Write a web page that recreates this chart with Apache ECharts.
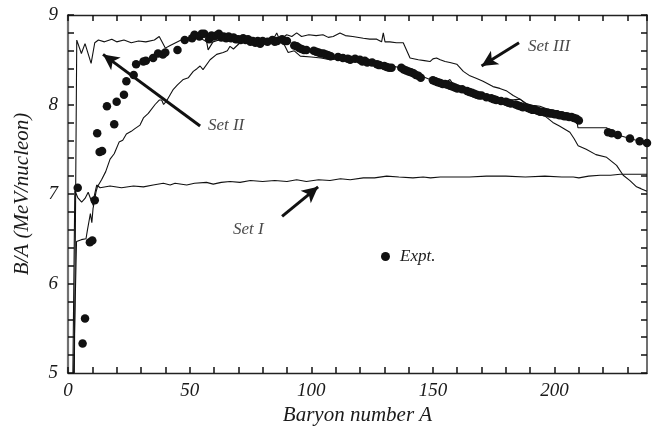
<!DOCTYPE html>
<html><head><meta charset="utf-8">
<script src="https://cdn.jsdelivr.net/npm/echarts@6/dist/echarts.min.js"></script>
<style>html,body{margin:0;padding:0;background:#fff}#c{width:668px;height:431px}</style>
</head><body><div id="c"></div>
<script>
// ---- data (A, B/A in MeV/nucleon) ----
const expt = [
[4,7.07],[6,5.33],[7,5.61],[9,6.46],[10,6.48],[11,6.93],[12,7.68],[13,7.47],[14,7.48],[16,7.98],[19,7.78],[20,8.03],
[23,8.11],[24,8.26],[27,8.33],[28,8.45],[31,8.48],[32,8.49],[35,8.52],[37,8.57],[39,8.56],[40,8.58],[45,8.61],[48,8.72],
[51,8.74],[52,8.78],[54,8.76],[55,8.79],[56,8.79],[58,8.73],[59,8.77],[60,8.76],[61,8.77],[62,8.79],[63,8.75],[64,8.76],
[65,8.74],[66,8.76],[67,8.74],[68,8.75],[69,8.73],[70,8.73],[71,8.72],[72,8.74],[73,8.72],[74,8.73],[75,8.70],[76,8.71],
[77,8.69],[78,8.71],[79,8.68],[80,8.71],[82,8.70],[84,8.72],[85,8.70],[86,8.71],[88,8.73],[89,8.71],[90,8.71],
[93,8.66],[94,8.65],[95,8.63],[96,8.62],[97,8.61],[98,8.61],[101,8.60],[102,8.59],[103,8.58],[104,8.57],[105,8.57],
[106,8.56],[107,8.55],[108,8.54],[111,8.53],[113,8.52],[115,8.51],[116,8.50],[118,8.51],[120,8.50],[121,8.48],[122,8.49],
[123,8.47],[125,8.47],[127,8.45],[128,8.44],[130,8.43],[131,8.42],[132,8.41],[133,8.41],[137,8.41],[138,8.39],[139,8.38],
[140,8.37],[141,8.36],[142,8.35],[143,8.33],[144,8.32],[145,8.30],[150,8.27],[151,8.26],[152,8.25],[153,8.24],[154,8.23],
[155,8.23],[156,8.22],[157,8.21],[158,8.20],[159,8.19],[160,8.18],[162,8.17],[164,8.15],[165,8.14],[166,8.13],[167,8.12],
[168,8.11],[169,8.10],[170,8.10],[172,8.08],[174,8.07],[175,8.06],[176,8.05],[178,8.04],[180,8.03],[181,8.02],[182,8.01],
[184,8.00],[185,7.99],[186,7.98],[187,7.97],[189,7.96],[190,7.95],[191,7.94],[192,7.94],[193,7.93],[194,7.92],[195,7.92],
[196,7.91],[197,7.91],[198,7.90],[199,7.90],[200,7.89],[201,7.89],[202,7.88],[203,7.88],[204,7.87],[205,7.87],[206,7.86],
[207,7.86],[208,7.85],[209,7.84],[210,7.82],[222,7.69],[223.5,7.68],[226,7.66],[231,7.62],[235,7.59],[238,7.57]
];
const setI = [
[2.0,5.0],[2.8,7.04],[4.0,6.96],[5.6,6.91],[7.0,6.95],[8.3,7.02],[9.5,6.93],[10.4,6.87],[10.8,6.98],[11.8,7.10],[13.2,7.07],
[17.3,7.09],[22,7.07],[26.9,7.09],[31,7.08],[35,7.10],[39.2,7.12],[42,7.10],[44,7.12],[48.8,7.10],[52,7.12],[56.9,7.13],
[59.7,7.11],[63,7.13],[66.6,7.14],[70.7,7.13],[75,7.15],[80,7.14],[85,7.15],[90,7.14],[94,7.16],[98,7.14],[103,7.16],
[107.7,7.15],[112,7.17],[116,7.16],[121.4,7.18],[126,7.18],[131,7.20],[136,7.19],[141.8,7.18],[146,7.19],[149,7.18],
[153,7.19],[158,7.19],[165,7.19],[172,7.20],[180,7.20],[188,7.19],[196,7.20],[203,7.19],[207.7,7.19],[210,7.18],
[214,7.20],[218.7,7.21],[223,7.21],[227,7.22],[232,7.22],[238,7.22]
];
const setII = [
[2.6,5.0],[3.6,8.72],[5.5,8.57],[7.0,8.68],[9.5,8.46],[11.0,8.69],[12.5,8.72],[15,8.70],[18,8.73],[20,8.70],[23,8.72],
[26,8.69],[29,8.71],[32,8.70],[35.5,8.72],[37.5,8.76],[40,8.63],[42,8.66],[46.5,8.72],[49,8.73],[52,8.75],[54.5,8.74],
[57,8.70],[57.6,8.61],[59.6,8.70],[62,8.72],[65,8.71],[68,8.72],[71,8.70],[74,8.72],[77,8.70],[80,8.71],[83,8.69],
[86,8.70],[88.5,8.69],[90.5,8.58],[93,8.60],[95.5,8.54],[100,8.53],[104,8.52],[107.7,8.50],[111,8.51],[114.5,8.50],
[118,8.49],[121.4,8.47],[125,8.46],[128,8.44],[132.3,8.43],[135,8.42],[137.8,8.41],[141,8.36],[144,8.32],[146,8.31],
[148.8,8.28],[151,8.25],[153,8.22],[155,8.24],[157,8.28],[158.5,8.22],[161,8.21],[164,8.17],[167,8.13],[170,8.11],
[174,8.08],[178,8.06],[182,8.05],[185.8,8.06],[188,8.01],[191,7.99],[194,7.98],[197,7.95],[201,7.93],[204,7.90],
[207.6,7.87],[209.2,7.82],[209.6,7.74],[221.5,7.74],[222.5,7.69],[226,7.66],[231,7.62],[235,7.59],[238,7.57]
];
const setIII = [
[2.3,5.0],[3.5,6.47],[5.5,6.49],[7.4,6.50],[8.0,6.60],[8.6,6.69],[9.2,6.78],[9.8,6.68],[10.3,6.84],[10.8,6.91],[11.5,7.02],
[12.1,7.08],[13.8,7.16],[15.5,7.25],[17.3,7.39],[19,7.45],[21,7.58],[22.5,7.60],[24,7.67],[26,7.70],[27.5,7.73],[29.6,7.77],
[31,7.85],[33,7.90],[35.8,8.00],[37.5,8.05],[38.5,8.05],[39.3,8.00],[40.5,8.04],[43.3,8.17],[45,8.22],[47.4,8.28],
[49.5,8.30],[51.5,8.37],[53,8.40],[54.3,8.43],[55.5,8.39],[58.4,8.50],[61.1,8.56],[63.8,8.58],[65.5,8.60],[66.6,8.65],
[68,8.62],[70.7,8.69],[73,8.70],[76,8.71],[79,8.70],[82,8.72],[84,8.71],[85.8,8.80],[87,8.72],[89.9,8.78],[92,8.76],
[94,8.80],[96,8.76],[99,8.78],[102,8.77],[104.8,8.78],[107,8.75],[109,8.76],[111.8,8.80],[114,8.77],[117,8.76],
[121.4,8.74],[124,8.73],[126.9,8.73],[128.9,8.70],[129.6,8.80],[130.3,8.70],[132.3,8.70],[135,8.69],[137.8,8.69],
[140.6,8.52],[144,8.50],[146.5,8.49],[148.8,8.48],[150,8.51],[151.5,8.52],[153,8.50],[155,8.48],[157,8.47],[159.8,8.45],
[162.5,8.37],[165.2,8.32],[168,8.29],[170.6,8.26],[174.7,8.20],[177.5,8.18],[180.4,8.15],[183,8.10],[185.8,8.06],
[189,8.00],[192.8,7.95],[195.2,7.89],[199.3,7.80],[202,7.76],[205.1,7.71],[206.3,7.69],[208,7.62],[209.7,7.54],
[213,7.50],[217,7.44],[221.4,7.41],[225.5,7.32],[228.2,7.21],[231,7.15],[233.7,7.08],[235.5,7.06],[238,7.03]
];
const xTickLabels = [0, 50, 100, 150, 200];
const yTickLabels = [5, 6, 7, 8, 9];
// annotations: [text, A, B/A] and arrows [fromA, fromBA, toA, toBA]
const notes = [['Set II', 57.3, 7.77], ['Set III', 188.9, 8.646], ['Set I', 67.6, 6.60]];
const arrows = [[54.3, 7.76, 14.4, 8.56], [185.4, 8.69, 170.0, 8.43], [88.0, 6.75, 102.8, 7.08]];

// ---- chart ----
const X_MIN = 0, X_MAX = 238, Y_MIN = 5, Y_MAX = 9;
const FONT = 'Liberation Serif';
const INK = '#111';
const txt = {fontFamily: FONT, fontStyle: 'italic', color: '#1a1a1a'};
const chart = echarts.init(document.getElementById('c'), null, {renderer: 'canvas'});
const near = (v, list) => list.some(t => Math.abs(v - t) < 1e-6);
const lineSeries = (name, data) => ({
  name, type: 'line', data, showSymbol: false, symbol: 'none', z: 2,
  lineStyle: {color: INK, width: 1.1}, emphasis: {disabled: true}
});
const tick = () => ({show: true, inside: true, length: 6, lineStyle: {color: '#111', width: 1.5}});
chart.setOption({
  animation: false,
  grid: {left: 68, right: 21, top: 15, bottom: 55.5},
  legend: {
    data: ['Expt.'], left: 376, top: 243, icon: 'circle', itemWidth: 9, itemHeight: 9,
    textStyle: Object.assign({fontSize: 17, padding: [0, 0, 0, 5]}, txt), selectedMode: false
  },
  xAxis: [{
    type: 'value', min: X_MIN, max: X_MAX, interval: 10, position: 'bottom',
    axisLine: {show: true, onZero: false, lineStyle: {color: '#222', width: 1.3}},
    axisTick: tick(),
    axisLabel: Object.assign({fontSize: 19, margin: 8, showMaxLabel: false,
      formatter: v => near(v, xTickLabels) ? String(Math.round(v)) : ''}, txt),
    splitLine: {show: false},
    name: 'Baryon number A', nameLocation: 'middle', nameGap: 32,
    nameTextStyle: Object.assign({fontSize: 21}, txt)
  }, {
    type: 'value', min: X_MIN, max: X_MAX, interval: 10, position: 'top',
    axisLine: {show: true, onZero: false, lineStyle: {color: '#222', width: 1.3}},
    axisTick: tick(),
    axisLabel: {show: false}, splitLine: {show: false}
  }],
  yAxis: [{
    type: 'value', min: Y_MIN, max: Y_MAX, interval: 0.2, position: 'left',
    axisLine: {show: true, onZero: false, lineStyle: {color: '#707070', width: 2.2}},
    axisTick: tick(),
    axisLabel: Object.assign({fontSize: 19, margin: 10,
      formatter: v => near(v, yTickLabels) ? String(Math.round(v)) : ''}, txt),
    splitLine: {show: false},
    name: 'B/A (MeV/nucleon)', nameLocation: 'middle', nameGap: 35, nameRotate: 90,
    nameTextStyle: Object.assign({fontSize: 21}, txt)
  }, {
    type: 'value', min: Y_MIN, max: Y_MAX, interval: 0.2, position: 'right',
    axisLine: {show: true, onZero: false, lineStyle: {color: '#707070', width: 2}},
    axisTick: tick(),
    axisLabel: {show: false}, splitLine: {show: false}
  }],
  series: [
    Object.assign(lineSeries('Set I', setI), {
      markLine: {
        silent: true, symbol: ['none', 'arrow'], symbolSize: [12, 16], animation: false,
        label: {show: false}, emphasis: {disabled: true},
        lineStyle: {color: '#111', width: 3, type: 'solid'},
        data: arrows.map(a => [{coord: [a[0], a[1]]}, {coord: [a[2], a[3]]}])
      }
    }),
    lineSeries('Set II', setII),
    lineSeries('Set III', setIII),
    {
      name: 'Expt.', type: 'scatter', data: expt, symbol: 'circle', symbolSize: 8.5, z: 3,
      itemStyle: {color: '#111', opacity: 1}, emphasis: {disabled: true}
    },
    {
      name: 'notes', type: 'scatter', symbolSize: 1, z: 4, silent: true,
      itemStyle: {color: 'rgba(0,0,0,0)'},
      data: notes.map(n => ({name: n[0], value: [n[1], n[2]]})),
      label: Object.assign({show: true, position: 'right', distance: 0, fontSize: 17,
        formatter: p => p.name}, txt)
    }
  ]
});
</script>
</body></html>
